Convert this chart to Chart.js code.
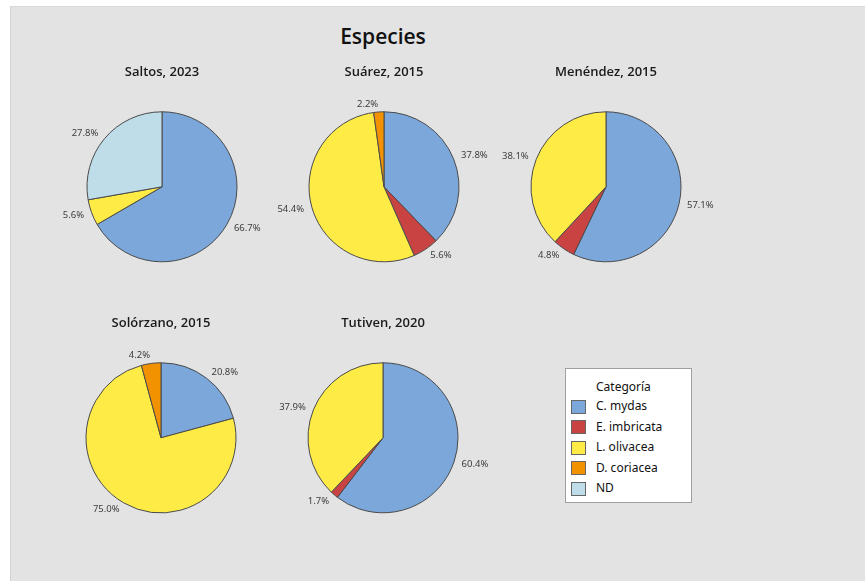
<!DOCTYPE html>
<html>
<head>
<meta charset="utf-8">
<script src="https://cdn.jsdelivr.net/npm/chart.js@4"></script>
<style>
  body { margin: 0; background: #fff; font-family: "Noto Sans", sans-serif; }
  #panel {
    position: absolute; left: 10px; top: 6px; width: 855px; height: 575px;
    background: #e3e3e3; border-left: 1px solid #d2d2d2; border-top: 1px solid #d8d8d8;
  }
  #mainTitle {
    position: absolute; left: 0; width: 766px; top: 22px; text-align: center;
    font-family: "Open Sans", sans-serif; font-size: 21px; font-weight: 600; color: #111;
  }
  canvas { position: absolute; }
  #legend {
    position: absolute; left: 565px; top: 368px; width: 127px; height: 135px;
    background: #fff; border: 1px solid #a0a0a0; box-sizing: border-box;
    font-size: 12px; color: #111;
  }
  #legend .head { position: absolute; left: 30px; top: 9px; }
  #legend .item { position: absolute; left: 5px; height: 16px; line-height: 16px; }
  #legend .sw {
    display: inline-block; width: 15px; height: 14px; border: 1px solid #666;
    vertical-align: middle; margin-right: 10px; box-sizing: border-box;
  }
</style>
</head>
<body>
<div id="panel"></div>
<div id="mainTitle">Especies</div>
<div id="legend"></div>

<script>
// species and share (%) per study
const categories = ['C. mydas', 'E. imbricata', 'L. olivacea', 'D. coriacea', 'ND'];
const studies = ['Saltos, 2023', 'Suárez, 2015', 'Menéndez, 2015', 'Solórzano, 2015', 'Tutiven, 2020'];
const saltos2023 = [66.7, 0, 5.6, 0, 27.8];
const suarez2015 = [37.8, 5.6, 54.4, 2.2, 0];
const menendez2015 = [57.1, 4.8, 38.1, 0, 0];
const solorzano2015 = [20.8, 0, 75.0, 4.2, 0];
const tutiven2020 = [60.4, 1.7, 37.9, 0, 0];

const colors = ['#7ba7da', '#c94343', '#ffeb45', '#f39200', '#bfdde8'];

// pie centers on the page
const centers = [[162, 187], [384, 187], [606, 187], [161, 438], [383, 438]];
const series = [saltos2023, suarez2015, menendez2015, solorzano2015, tutiven2020];

// percentage labels outside each slice
const sliceLabels = {
  id: 'sliceLabels',
  afterDatasetsDraw(chart) {
    const ctx = chart.ctx;
    const meta = chart.getDatasetMeta(0);
    const values = chart.data.datasets[0].data;
    ctx.save();
    ctx.font = '9.5px "Noto Sans"';
    ctx.fillStyle = '#3c3c3c';
    ctx.textBaseline = 'middle';
    meta.data.forEach((arc, i) => {
      if (!values[i]) return;
      const a = (arc.startAngle + arc.endAngle) / 2;
      const r = arc.outerRadius + 8;
      const x = arc.x + Math.cos(a) * r;
      const y = arc.y + Math.sin(a) * r;
      ctx.textAlign = Math.cos(a) >= 0 ? 'left' : 'right';
      ctx.fillText(values[i].toFixed(1) + '%', x, y);
    });
    ctx.restore();
  }
};

series.forEach((values, k) => {
  const canvas = document.createElement('canvas');
  canvas.width = 260;
  canvas.height = 210;
  canvas.style.left = (centers[k][0] - 130) + 'px';
  canvas.style.top = (centers[k][1] - 123) + 'px';
  document.body.appendChild(canvas);

  new Chart(canvas, {
    type: 'pie',
    data: {
      labels: categories,
      datasets: [{
        data: values,
        backgroundColor: colors,
        borderColor: '#4a4a4a',
        borderWidth: 1
      }]
    },
    options: {
      responsive: false,
      animation: false,
      radius: 75,
      plugins: {
        legend: { display: false },
        tooltip: { enabled: false },
        title: {
          display: true,
          text: studies[k],
          color: '#1a1a1a',
          font: { family: 'Open Sans', size: 13, weight: '600' },
          padding: { top: 0, bottom: 20 }
        }
      }
    },
    plugins: [sliceLabels]
  });
});

// legend box
const legend = document.getElementById('legend');
legend.innerHTML = '<div class="head">Categoría</div>' + categories.map((c, i) =>
  '<div class="item" style="top:' + (29 + i * 20.5) + 'px"><span class="sw" style="background:' +
  colors[i] + '"></span>' + c + '</div>').join('');
</script>
</body>
</html>
